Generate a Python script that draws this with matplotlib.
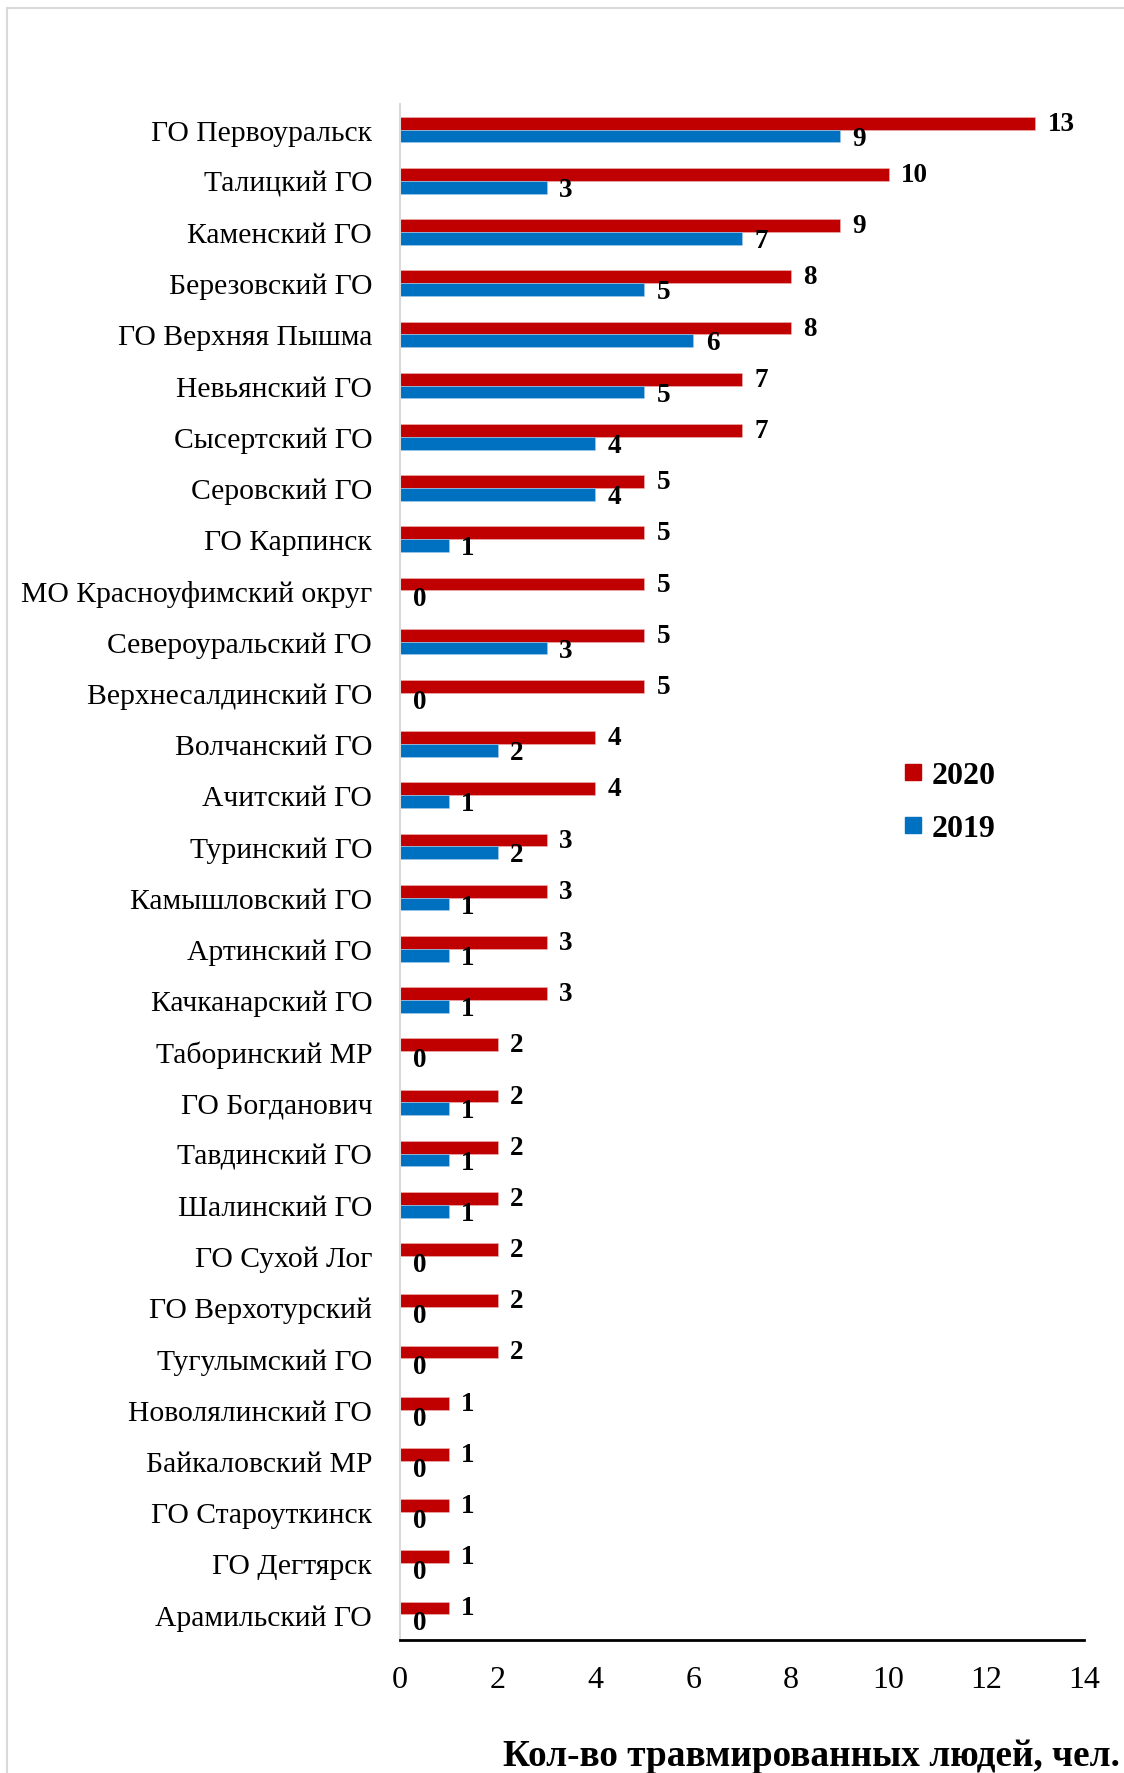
import numpy as np
import matplotlib.pyplot as plt
from matplotlib.lines import Line2D

plt.rcParams['font.family'] = ['Liberation Serif', 'DejaVu Serif']

names = ['ГО Первоуральск', 'Талицкий ГО', 'Каменский ГО', 'Березовский ГО',
         'ГО Верхняя Пышма', 'Невьянский ГО', 'Сысертский ГО', 'Серовский ГО',
         'ГО Карпинск', 'МО Красноуфимский округ', 'Североуральский ГО',
         'Верхнесалдинский ГО', 'Волчанский ГО', 'Ачитский ГО', 'Туринский ГО',
         'Камышловский ГО', 'Артинский ГО', 'Качканарский ГО', 'Таборинский МР',
         'ГО Богданович', 'Тавдинский ГО', 'Шалинский ГО', 'ГО Сухой Лог',
         'ГО Верхотурский', 'Тугулымский ГО', 'Новолялинский ГО',
         'Байкаловский МР', 'ГО Староуткинск', 'ГО Дегтярск', 'Арамильский ГО']
v2020 = [13, 10, 9, 8, 8, 7, 7, 5, 5, 5, 5, 5, 4, 4, 3, 3, 3, 3, 2, 2, 2, 2, 2, 2, 2, 1, 1, 1, 1, 1]
v2019 = [9, 3, 7, 5, 6, 5, 4, 4, 1, 0, 3, 0, 2, 1, 2, 1, 1, 1, 0, 1, 1, 1, 0, 0, 0, 0, 0, 0, 0, 0]
xticks = [0, 2, 4, 6, 8, 10, 12, 14]

red = '#C00000'
blue = '#0070C0'

fig = plt.figure(figsize=(11.24, 17.74), dpi=100)
ax = fig.add_axes([400/1124, 1-1641/1774, 684/1124, 1536/1774])

y = np.arange(len(names))
h = 0.25
ax.barh(y - h/2, v2020, height=h, color=red, edgecolor='#f2b8b8', linewidth=0.4, label='2020')
ax.barh(y + h/2, v2019, height=h, color=blue, edgecolor='#a8cbe8', linewidth=0.4, label='2019')

# value labels, offset in points to the right of the bar end
for i in range(len(names)):
    ax.annotate(str(v2020[i]), (v2020[i], y[i] - h/2), xytext=(9, 0), textcoords='offset points',
                ha='left', va='center', fontsize=19.5, fontweight='bold')
    ax.annotate(str(v2019[i]), (v2019[i], y[i] + h/2 + 0.04), xytext=(9, 0), textcoords='offset points',
                ha='left', va='center', fontsize=19.5, fontweight='bold')

ax.set_ylim(len(names) - 0.5, -0.5)
ax.set_xlim(0, 14)
ax.set_xticks(xticks)
ax.set_yticks(y)
ax.set_yticklabels(names, fontsize=21.3)
ax.tick_params(axis='x', labelsize=23, length=0, pad=18)
ax.tick_params(axis='y', length=0, pad=20)

for s in ['top', 'right']:
    ax.spines[s].set_visible(False)
ax.spines['left'].set_color('#d9d9d9')
ax.spines['left'].set_linewidth(1.5)
ax.spines['bottom'].set_color('black')
ax.spines['bottom'].set_linewidth(2)

leg_handles = [Line2D([], [], marker='s', ls='', color=red, markersize=12),
               Line2D([], [], marker='s', ls='', color=blue, markersize=12)]
leg = fig.legend(leg_handles, ['2020', '2019'], loc='center left',
                 bbox_to_anchor=(868/1124, 1-803/1774), frameon=False,
                 prop={'size': 23, 'weight': 'bold'}, handletextpad=0.1,
                 labelspacing=0.75, handlelength=1.0)

fig.text(1120/1124, 1-1757/1774, 'Кол-во травмированных людей, чел.',
         ha='right', va='center', fontsize=26.8, fontweight='bold')

# outer light frame
fig.add_artist(Line2D([7/1124, 1.0], [1-9/1774, 1-9/1774], color='#d9d9d9', lw=1.5))
fig.add_artist(Line2D([7/1124, 7/1124], [0, 1-9/1774], color='#d9d9d9', lw=1.5))

fig.savefig('out.png', dpi=100)
